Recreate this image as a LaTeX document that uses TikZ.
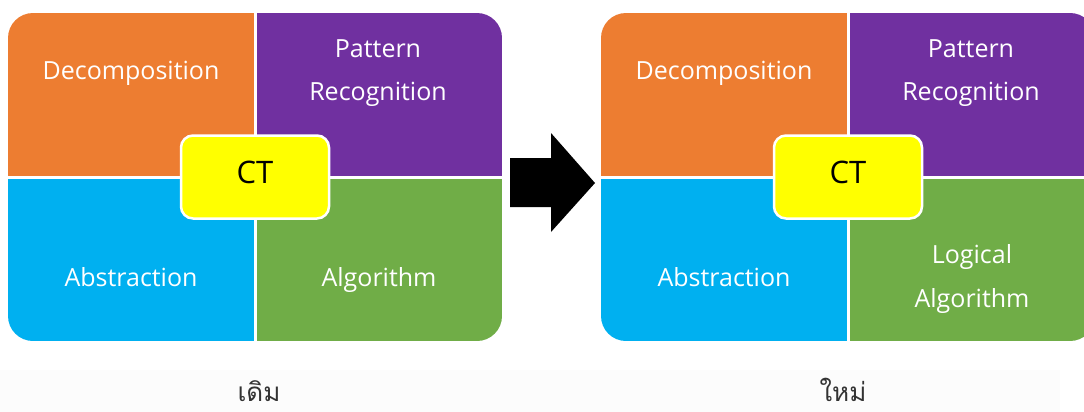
\documentclass[tikz,border=0pt]{standalone}
\usepackage{fontspec}
\setmainfont{Open Sans}
\newfontfamily\thaifont[Script=Thai]{Loma}

\definecolor{ctorange}{HTML}{ED7D31}
\definecolor{ctpurple}{HTML}{7030A0}
\definecolor{ctblue}{HTML}{00B0F0}
\definecolor{ctgreen}{HTML}{70AD47}
\definecolor{ctyellow}{HTML}{FFFF00}

\tikzset{
  quad/.style={draw=none, inner sep=0pt, minimum width=247pt, minimum height=164pt, anchor=north west},
  qlabel/.style={text=white, align=center, inner sep=0pt, anchor=base, font=\fontsize{25}{43}\selectfont},
  ctbox/.style={fill=ctyellow, draw=white, line width=2.5pt, rounded corners=12pt,
    minimum width=148pt, minimum height=83pt, inner sep=0pt, text height=13pt, text depth=0pt,
    font=\fontsize{31}{36}\selectfont},
  divider/.style={white, line width=3pt},
  caption/.style={font=\thaifont\fontsize{26}{30}\selectfont, text=black!80, anchor=base, inner sep=0pt},
}

\begin{document}
\begin{tikzpicture}[x=1pt, y=-1pt]
\useasboundingbox (0,0) rectangle (1084,412);
\clip (0,0) rectangle (1084,412);

% faint band behind the captions
\fill[black!1.2] (0,370) rectangle (1060,412);

% ---------- first board ----------
\begin{scope}
  \clip[rounded corners=25pt] (8,13) rectangle (502,341);
  \node[quad, fill=ctorange] (a-dec) at (8,13) {};
  \node[quad, fill=ctpurple] (a-pat) at (255,13) {};
  \node[quad, fill=ctblue]   (a-abs) at (8,177) {};
  \node[quad, fill=ctgreen]  (a-alg) at (255,177) {};
\end{scope}
\draw[divider] (a-dec.north east) -- (a-abs.south east);
\draw[divider] (a-dec.south west) -- (a-pat.south east);
\node[qlabel] (a-dect) at (131,80) {Decomposition};
\node[qlabel] (a-patt) at (378,100) {Pattern\\Recognition};
\node[qlabel] (a-abst) at (131,286) {Abstraction};
\node[qlabel] (a-algt) at (379,286) {Algorithm};
\node[ctbox] (a-ct) at (255,177) {CT};

% ---------- arrow between the boards ----------
\coordinate (arr-s1) at (510,158);
\coordinate (arr-s2) at (510,207);
\coordinate (arr-tip) at (595,183);
\fill[black] (arr-s1) -- (551,158) -- (551,133) -- (arr-tip) -- (551,232) -- (551,207) -- (arr-s2) -- cycle;

% ---------- second board ----------
\begin{scope}[xshift=593pt]
  \begin{scope}
    \clip[rounded corners=25pt] (8,13) rectangle (502,341);
    \node[quad, fill=ctorange] (b-dec) at (8,13) {};
    \node[quad, fill=ctpurple] (b-pat) at (255,13) {};
    \node[quad, fill=ctblue]   (b-abs) at (8,177) {};
    \node[quad, fill=ctgreen]  (b-alg) at (255,177) {};
  \end{scope}
  \draw[divider] (b-dec.north east) -- (b-abs.south east);
  \draw[divider] (b-dec.south west) -- (b-pat.south east);
  \node[qlabel] (b-dect) at (131,80) {Decomposition};
  \node[qlabel] (b-patt) at (378,100) {Pattern\\Recognition};
  \node[qlabel] (b-abst) at (131,286) {Abstraction};
  \node[qlabel, font=\fontsize{25}{44}\selectfont] (b-algt) at (379,307) {Logical\\Algorithm};
  \node[ctbox] (b-ct) at (255,177) {CT};
\end{scope}

% ---------- captions ----------
\node[caption] (cap-old) at (259,401) {เดิม};
\node[caption] (cap-new) at (843,401) {ใหม่};
\end{tikzpicture}
\end{document}
